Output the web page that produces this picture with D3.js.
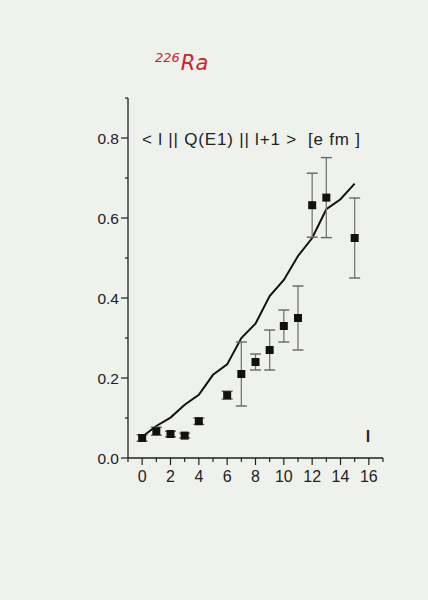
<!DOCTYPE html>
<html>
<head>
<meta charset="utf-8">
<script src="https://cdn.jsdelivr.net/npm/d3@7"></script>
<style>
  body { margin: 0; background: #eef1ec; }
  svg { display: block; }
</style>
</head>
<body>
<script>
// measured points (l, value, error)
const lVals   = [0, 1, 2, 3, 4, 6, 7, 8, 9, 10, 11, 12, 13, 15];
const qVals   = [0.05, 0.067, 0.06, 0.056, 0.092, 0.157, 0.21, 0.24, 0.27, 0.33, 0.35, 0.632, 0.651, 0.55];
const qErr    = [0.008, 0.01, 0.007, 0.006, 0.008, 0.01, 0.08, 0.02, 0.05, 0.04, 0.08, 0.08, 0.10, 0.10];
// theory curve
const lineL   = [0, 1, 2, 3, 4, 5, 6, 7, 8, 9, 10, 11, 12, 13, 14, 15];
const lineQ   = [0.053, 0.08, 0.101, 0.133, 0.158, 0.208, 0.234, 0.30, 0.336, 0.405, 0.445, 0.505, 0.55, 0.622, 0.647, 0.686];
const xTicks  = [0, 2, 4, 6, 8, 10, 12, 14, 16];
const yTicks  = [0.0, 0.2, 0.4, 0.6, 0.8];

const W = 428, H = 600;
const svg = d3.select("body").append("svg")
  .attr("width", W)
  .attr("height", H);

const x = d3.scaleLinear().domain([-1, 17]).range([128, 383]);
const y = d3.scaleLinear().domain([0, 0.9]).range([458, 98]);

const font = "'Liberation Sans', Arial, sans-serif";

// y axis
const yAxis = svg.append("g").attr("transform", "translate(" + x(-1) + ",0)");
yAxis.append("line").attr("y1", y(0)).attr("y2", y(0.9)).attr("stroke", "#222").attr("stroke-width", 1.3);
yAxis.selectAll(".minor").data(d3.range(0.1, 0.91, 0.2)).enter().append("line")
  .attr("x1", -3).attr("x2", 0)
  .attr("y1", d => y(d)).attr("y2", d => y(d))
  .attr("stroke", "#222").attr("stroke-width", 1.2);
yAxis.selectAll(".major").data(yTicks).enter().append("line")
  .attr("x1", -7).attr("x2", 0)
  .attr("y1", d => y(d)).attr("y2", d => y(d))
  .attr("stroke", "#222").attr("stroke-width", 1.2);
yAxis.selectAll("text").data(yTicks).enter().append("text")
  .attr("x", -9).attr("y", d => y(d)).attr("dy", "0.36em")
  .attr("text-anchor", "end")
  .style("font-family", font).style("font-size", "15.5px").attr("fill", "#222")
  .text(d3.format(".1f"));

// x axis
const xAxis = svg.append("g").attr("transform", "translate(0," + y(0) + ")");
xAxis.append("line").attr("x1", x(-1)).attr("x2", x(17)).attr("stroke", "#222").attr("stroke-width", 1.3);
xAxis.selectAll(".minor").data(d3.range(-1, 17.1, 2)).enter().append("line")
  .attr("x1", d => x(d)).attr("x2", d => x(d))
  .attr("y1", 0).attr("y2", 4)
  .attr("stroke", "#222").attr("stroke-width", 1.2);
xAxis.selectAll(".major").data(xTicks).enter().append("line")
  .attr("x1", d => x(d)).attr("x2", d => x(d))
  .attr("y1", 0).attr("y2", 7)
  .attr("stroke", "#222").attr("stroke-width", 1.2);
xAxis.selectAll("text").data(xTicks).enter().append("text")
  .attr("x", d => x(d)).attr("y", 24)
  .attr("text-anchor", "middle")
  .style("font-family", font).style("font-size", "16px").attr("fill", "#222")
  .text(d => d);

// theory line
svg.append("path")
  .datum(lineL.map((l, i) => [l, lineQ[i]]))
  .attr("fill", "none")
  .attr("stroke", "#111")
  .attr("stroke-width", 2)
  .attr("d", d3.line().x(d => x(d[0])).y(d => y(d[1])));

// error bars
const pts = lVals.map((l, i) => ({ l: l, q: qVals[i], e: qErr[i] }));
const eb = svg.append("g");
eb.selectAll(".bar").data(pts).enter().append("line")
  .attr("x1", d => x(d.l)).attr("x2", d => x(d.l))
  .attr("y1", d => y(d.q - d.e)).attr("y2", d => y(d.q + d.e))
  .attr("stroke", "#777").attr("stroke-width", 1.3);
[-1, 1].forEach(s => {
  eb.selectAll(".cap" + s).data(pts).enter().append("line")
    .attr("x1", d => x(d.l) - 5.5).attr("x2", d => x(d.l) + 5.5)
    .attr("y1", d => y(d.q + s * d.e)).attr("y2", d => y(d.q + s * d.e))
    .attr("stroke", "#666").attr("stroke-width", 1.4);
});
eb.selectAll("rect").data(pts).enter().append("rect")
  .attr("x", d => x(d.l) - 4).attr("y", d => y(d.q) - 4)
  .attr("width", 8).attr("height", 8)
  .attr("fill", "#111");

// axis title inside plot
svg.append("text")
  .attr("x", 142).attr("y", 145)
  .style("font-family", font).style("font-size", "17px").style("letter-spacing", "0.8px")
  .attr("fill", "#222")
  .attr("xml:space", "preserve")
  .text("< l || Q(E1) || l+1 >  [e fm ]");

// x label
svg.append("text")
  .attr("x", 368).attr("y", 442)
  .attr("text-anchor", "middle")
  .style("font-family", font).style("font-size", "16px").style("font-weight", "bold").attr("fill", "#222")
  .text("l");

// nucleus label
const t = svg.append("text")
  .attr("x", 155).attr("y", 70)
  .style("font-family", "'DejaVu Sans', sans-serif").style("font-style", "italic")
  .attr("fill", "#d4202c");
t.append("tspan").style("font-size", "13px").attr("dy", "-8").text("226");
t.append("tspan").style("font-size", "21px").attr("dy", "8").attr("dx", "1").text("Ra");
</script>
</body>
</html>
